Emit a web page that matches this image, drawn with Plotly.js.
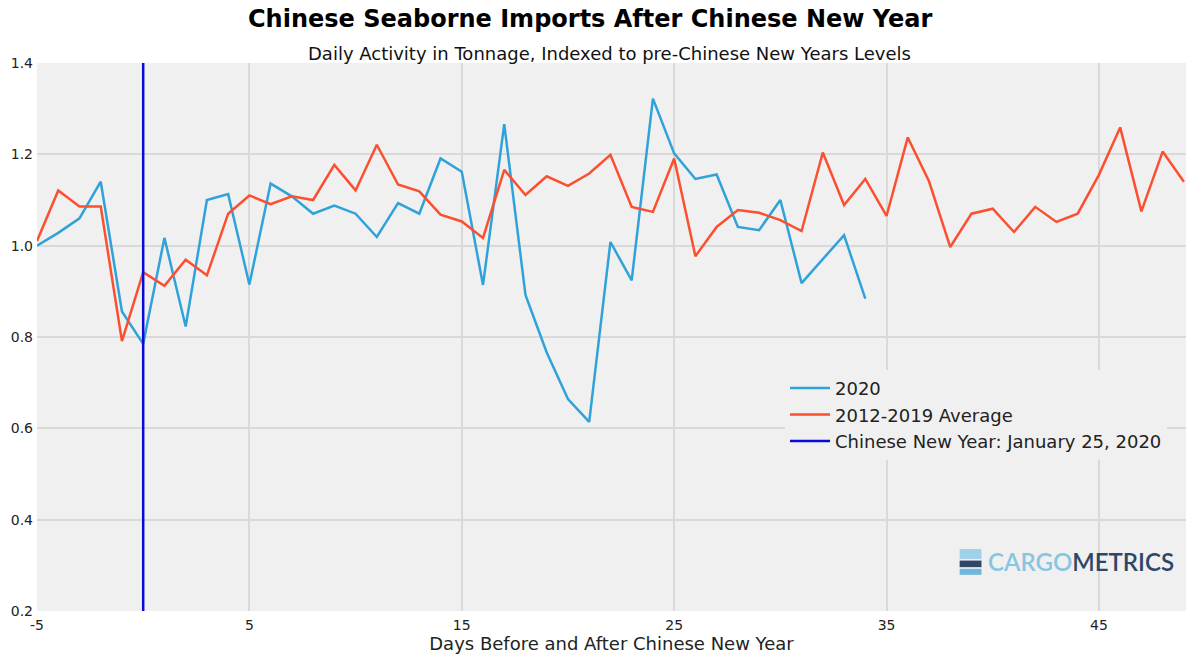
<!DOCTYPE html>
<html>
<head>
<meta charset="utf-8">
<script src="https://cdn.plot.ly/plotly-3.0.1.min.js"></script>
<style>html,body{margin:0;padding:0;background:#fff;}#chart{width:1200px;height:659px;}</style>
</head>
<body>
<div id="chart"></div>
<script>
const days2020 = [-5,-4,-3,-2,-1,0,1,2,3,4,5,6,7,8,9,10,11,12,13,14,15,16,17,18,19,20,21,22,23,24,25,26,27,28,29,30,31,32,33,34];
const values2020 = [1.00,1.028,1.06,1.14,0.856,0.785,1.017,0.823,1.10,1.113,0.915,1.136,1.108,1.07,1.088,1.07,1.019,1.093,1.07,1.191,1.162,0.914,1.266,0.892,0.766,0.664,0.614,1.008,0.924,1.322,1.202,1.146,1.156,1.041,1.034,1.10,0.918,0.971,1.023,0.884];
const daysAvg = [-5,-4,-3,-2,-1,0,1,2,3,4,5,6,7,8,9,10,11,12,13,14,15,16,17,18,19,20,21,22,23,24,25,26,27,28,29,30,31,32,33,34,35,36,37,38,39,40,41,42,43,44,45,46,47,48,49];
const valuesAvg = [1.01,1.121,1.086,1.086,0.791,0.942,0.912,0.969,0.935,1.07,1.11,1.091,1.108,1.10,1.177,1.121,1.221,1.134,1.119,1.068,1.053,1.017,1.166,1.111,1.152,1.131,1.158,1.199,1.085,1.074,1.191,0.977,1.041,1.078,1.072,1.056,1.032,1.204,1.089,1.146,1.065,1.237,1.141,0.997,1.07,1.081,1.03,1.085,1.052,1.07,1.155,1.259,1.075,1.206,1.14];
const cnyDay = 0;
const yTicks = [0.2,0.4,0.6,0.8,1.0,1.2,1.4];
const yTickLabels = ['0.2','0.4','0.6','0.8','1.0','1.2','1.4'];
const xTicks = [-5,5,15,25,35,45];
const xTickLabels = ['-5','5','15','25','35','45'];

const traces = [
  {x: days2020, y: values2020, type: 'scatter', mode: 'lines', name: '2020',
   line: {color: '#30a2da', width: 2.5}},
  {x: daysAvg, y: valuesAvg, type: 'scatter', mode: 'lines', name: '2012-2019 Average',
   line: {color: '#fc4f30', width: 2.5}},
  {x: [cnyDay, cnyDay], y: [yTicks[0], yTicks[yTicks.length-1]], type: 'scatter', mode: 'lines',
   name: 'Chinese New Year: January 25, 2020', line: {color: '#0a0ad8', width: 2.5}}
];

const layout = {
  width: 1200, height: 659,
  margin: {l: 37, r: 14, t: 63, b: 48},
  paper_bgcolor: '#ffffff',
  plot_bgcolor: '#f0f0f0',
  font: {family: 'DejaVu Sans', size: 14, color: '#222'},
  showlegend: true,
  legend: {x: 0.651, y: 0.44, xanchor: 'left', yanchor: 'top', bgcolor: '#f0f0f0',
           font: {size: 18, color: '#222'}, tracegroupgap: 0, itemwidth: 40},
  xaxis: {range: [-5, 49.1], tickvals: xTicks, ticktext: xTickLabels, showgrid: true,
          gridcolor: '#d9d9d9', gridwidth: 2, zeroline: false, showline: false, ticks: '',
          tickfont: {size: 14, color: '#222'}, ticklabelstandoff: 4,
          title: {text: 'Days Before and After Chinese New Year', font: {size: 18, color: '#222'}, standoff: 2}},
  yaxis: {range: [0.2, 1.4], tickvals: yTicks, ticktext: yTickLabels, showgrid: true,
          gridcolor: '#d9d9d9', gridwidth: 2, zeroline: false, showline: false, ticks: '',
          tickfont: {size: 14, color: '#222'}, ticklabelstandoff: 3},
  annotations: [
    {text: '<b>Chinese Seaborne Imports After Chinese New Year</b>', xref: 'paper', yref: 'paper',
     x: 0.481, y: 1.08, xanchor: 'center', yanchor: 'middle', showarrow: false,
     font: {family: 'DejaVu Sans', size: 24, color: '#000'}},
    {text: 'Daily Activity in Tonnage, Indexed to pre-Chinese New Years Levels', xref: 'paper', yref: 'paper',
     x: 0.498, y: 1.018, xanchor: 'center', yanchor: 'middle', showarrow: false,
     font: {family: 'DejaVu Sans', size: 18, color: '#111'}},
    {text: '<span style="color:#86c6e2">CARGO</span><span style="color:#2e4767">METRICS</span>',
     xref: 'paper', yref: 'paper', x: 0.991, y: 0.09, xanchor: 'right', yanchor: 'middle', showarrow: false,
     font: {family: 'Lato', size: 24, weight: 600}}
  ],
  shapes: [
    {type: 'rect', xref: 'paper', yref: 'paper', x0: 0.803, x1: 0.822, y0: 0.095, y1: 0.113,
     fillcolor: '#9fd2ea', line: {width: 0}},
    {type: 'rect', xref: 'paper', yref: 'paper', x0: 0.803, x1: 0.822, y0: 0.08, y1: 0.092,
     fillcolor: '#2e4767', line: {width: 0}},
    {type: 'rect', xref: 'paper', yref: 'paper', x0: 0.803, x1: 0.822, y0: 0.066, y1: 0.077,
     fillcolor: '#6fb8dc', line: {width: 0}}
  ]
};

Plotly.newPlot('chart', traces, layout, {displayModeBar: false, staticPlot: true});
</script>
</body>
</html>
